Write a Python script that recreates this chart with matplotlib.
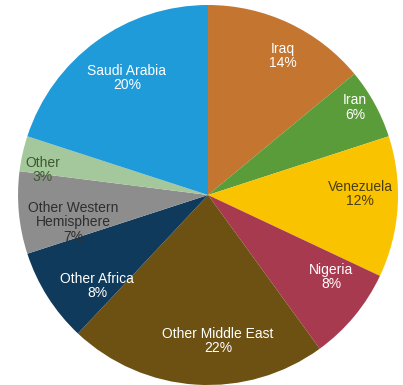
import matplotlib.pyplot as plt
import numpy as np

plt.rcParams['font.family'] = ['Liberation Sans', 'DejaVu Sans']

# Share of imports by origin (clockwise from 12 o'clock)
labels = ["Iraq", "Iran", "Venezuela", "Nigeria", "Other Middle East",
          "Other Africa", "Other Western\nHemisphere", "Other", "Saudi Arabia"]
shares = [14, 6, 12, 8, 22, 8, 7, 3, 20]

colors = ["#C4752F", "#5A9B3A", "#FAC300", "#A83A50", "#6C5112",
          "#0F3A5B", "#8D8D8D", "#A4C79C", "#1F9BDA"]
text_colors = ["white", "white", "#4A3E10", "white", "white",
               "white", "#2E2E2E", "#3D5A2E", "white"]
# label placement: radius fraction and angle shift (deg) from slice middle
label_r = [0.83, 0.9, 0.8, 0.78, 0.77, 0.755, 0.725, 0.88, 0.75]
label_shift = [-3, 2, 4, 6, 7.5, 7, 6, 4, -1.3]

fig = plt.figure(figsize=(4.03, 3.85), dpi=100)
ax = fig.add_axes([0.0447, 0.0, 0.943, 0.987])

wedges, _ = ax.pie(shares, colors=colors, startangle=90, counterclock=False,
                   radius=1.0, wedgeprops=dict(linewidth=0))

for w, lab, val, tc, r, s in zip(wedges, labels, shares, text_colors, label_r, label_shift):
    ang = np.deg2rad((w.theta1 + w.theta2) / 2 + s)
    ax.text(r * np.cos(ang), r * np.sin(ang), f"{lab}\n{val}%",
            ha="center", va="center", fontsize=10, color=tc, linespacing=1.05)

ax.set_xlim(-1, 1)
ax.set_ylim(-1, 1)
ax.set_aspect("equal")
ax.axis("off")

fig.savefig("out.png", dpi=100)
